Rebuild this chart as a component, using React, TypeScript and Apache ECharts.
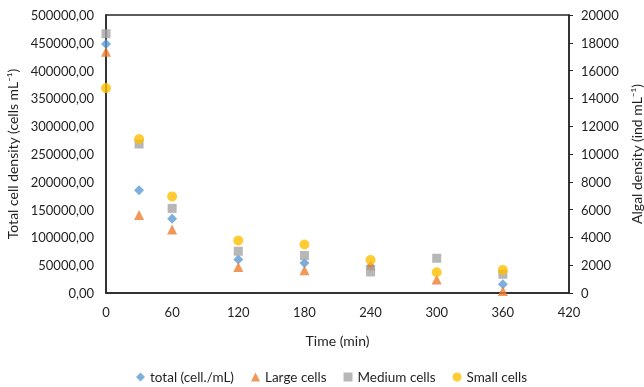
import React, { useEffect, useRef } from "react";
import * as echarts from "echarts";

const times = [0, 30, 60, 120, 180, 240, 300, 360];
const totalCells: (number | null)[] = [448000, 184600, 133400, 60200, 54100, 48000, null, 15700];
const largeCells = [17350, 5620, 4570, 1875, 1640, 2000, 965, 150];
const mediumCells = [18650, 10720, 6085, 3005, 2700, 1515, 2500, 1350];
const smallCells = [14740, 11080, 6950, 3780, 3490, 2380, 1490, 1660];
const leftTicks = { min: 0, max: 500000, interval: 50000 };
const rightTicks = { min: 0, max: 20000, interval: 2000 };
const xTicks = { min: 0, max: 420, interval: 60 };

const seriesNames = ["total (cell./mL)", "Large cells", "Medium cells", "Small cells"];
const FONT = "Lato, 'Open Sans', sans-serif";
const TXT = "#1f1f1f";
const AX = "#262626";

function pairs(vals: (number | null)[]) {
  return times.map((t, i) => (vals[i] == null ? [t, "-"] : [t, vals[i]]));
}

export default function App() {
  const ref = useRef<HTMLDivElement>(null);
  useEffect(() => {
    if (!ref.current) return;
    const chart = echarts.init(ref.current, undefined, { renderer: "svg" });
    chart.setOption({
      animation: false,
      textStyle: { fontFamily: FONT, color: TXT },
      grid: {
        left: 106,
        right: 75,
        top: 15,
        bottom: 94,
        outerBoundsMode: "none",
        containLabel: false,
        show: true,
        borderColor: AX,
        borderWidth: 1.5,
        backgroundColor: "transparent",
      },
      legend: {
        top: 370,
        padding: 0,
        left: 136,
        itemWidth: 9,
        itemHeight: 9,
        itemGap: 17,
        textStyle: { fontFamily: FONT, fontSize: 13.5, color: TXT },
        data: [
          { name: seriesNames[0], icon: "diamond" },
          { name: seriesNames[1], icon: "triangle" },
          { name: seriesNames[2], icon: "rect" },
          { name: seriesNames[3], icon: "circle" },
        ],
      },
      xAxis: {
        type: "value",
        ...xTicks,
        name: "Time (min)",
        nameLocation: "middle",
        nameGap: 40,
        nameTextStyle: { fontFamily: FONT, fontSize: 14, color: TXT },
        axisLine: { show: true, lineStyle: { color: AX, width: 1.5 } },
        axisTick: { show: false },
        splitLine: { show: false },
        axisLabel: { fontFamily: FONT, fontSize: 13, color: TXT, margin: 12 },
      },
      yAxis: [
        {
          type: "value",
          ...leftTicks,
          name: "Total cell density (cells mL⁻¹)",
          nameLocation: "middle",
          nameGap: 76,
          nameTextStyle: { fontFamily: FONT, fontSize: 14, color: TXT },
          axisLine: { show: true, lineStyle: { color: AX, width: 1.5 } },
          axisTick: { show: false },
          splitLine: { show: false },
          axisLabel: {
            fontFamily: FONT,
            fontSize: 13,
            color: TXT,
            margin: 12,
            formatter: (v: number) => v.toFixed(2).replace(".", ","),
          },
        },
        {
          type: "value",
          ...rightTicks,
          position: "right",
          name: "Algal density (ind mL⁻¹)",
          nameLocation: "middle",
          nameGap: 56,
          nameRotate: 90,
          nameTextStyle: { fontFamily: FONT, fontSize: 14, color: TXT },
          axisLine: { show: true, lineStyle: { color: AX, width: 1.5 } },
          axisTick: { show: true, inside: false, length: 4, lineStyle: { color: AX } },
          splitLine: { show: false },
          axisLabel: {
            fontFamily: FONT,
            fontSize: 13,
            color: TXT,
            margin: 12,
            formatter: (v: number) => String(v),
          },
        },
      ],
      series: [
        {
          name: seriesNames[0],
          type: "scatter",
          yAxisIndex: 0,
          symbol: "diamond",
          symbolSize: 10,
          itemStyle: { color: "#5B9BD5" },
          data: pairs(totalCells),
        },
        {
          name: seriesNames[1],
          type: "scatter",
          yAxisIndex: 1,
          symbol: "triangle",
          symbolSize: 10,
          itemStyle: { color: "#ED7D31" },
          data: pairs(largeCells),
        },
        {
          name: seriesNames[2],
          type: "scatter",
          yAxisIndex: 1,
          symbol: "rect",
          symbolSize: 9,
          itemStyle: { color: "#A5A5A5" },
          data: pairs(mediumCells),
        },
        {
          name: seriesNames[3],
          type: "scatter",
          yAxisIndex: 1,
          symbol: "circle",
          symbolSize: 10,
          itemStyle: { color: "#FFC000" },
          data: pairs(smallCells),
        },
      ],
    });
    return () => chart.dispose();
  }, []);
  return (
    <div
      ref={ref}
      style={{ position: "fixed", left: 0, top: 0, width: 644, height: 387 }}
    />
  );
}
